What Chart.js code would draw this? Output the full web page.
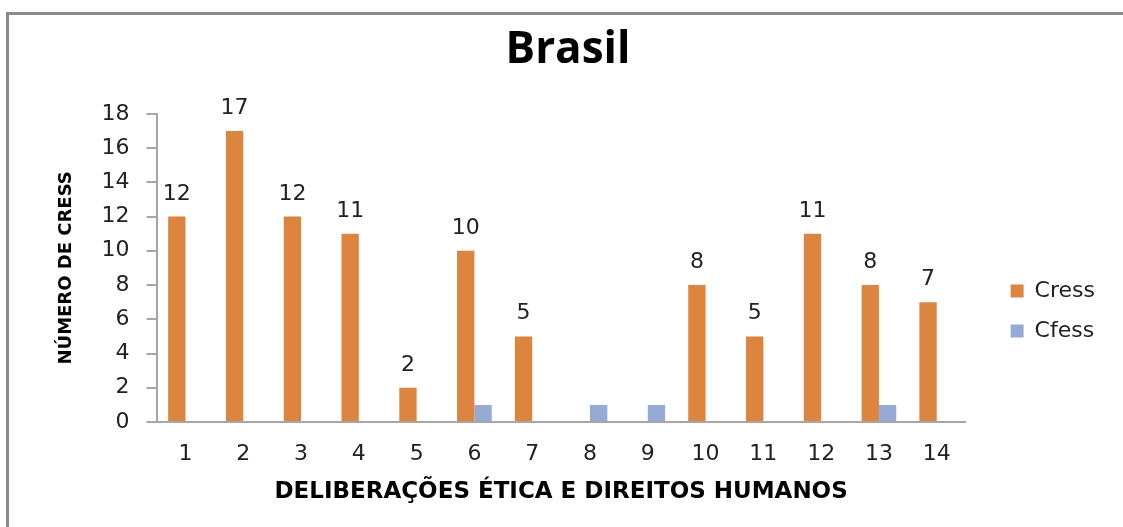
<!DOCTYPE html>
<html>
<head>
<meta charset="utf-8">
<script src="https://cdn.jsdelivr.net/npm/chart.js@4.4.1/dist/chart.umd.min.js"></script>
<style>
  html, body { margin: 0; padding: 0; background: #fff; }
  #wrap { position: relative; width: 1123px; height: 527px; }
  #frame { position: absolute; left: 6px; top: 12px; right: 0; bottom: 0;
           border-top: 3px solid #8a8a8a; border-left: 3px solid #8a8a8a; pointer-events: none; }
  canvas { position: absolute; left: 0; top: 0; }
</style>
</head>
<body>
<div id="wrap">
  <canvas id="c" width="1123" height="527"></canvas>
  <div id="frame"></div>
</div>
<script>
const categories = ['1','2','3','4','5','6','7','8','9','10','11','12','13','14'];
const cressValues = [12, 17, 12, 11, 2, 10, 5, 0, 0, 8, 5, 11, 8, 7];
const cfessValues = [0, 0, 0, 0, 0, 1, 0, 1, 1, 0, 0, 0, 1, 0];
const yTicks = [0, 2, 4, 6, 8, 10, 12, 14, 16, 18];

const tickFont = { family: 'DejaVu Sans', size: 22 };

const labelPlugin = {
  id: 'barLabels',
  afterDatasetsDraw(chart) {
    const ctx = chart.ctx;
    const meta = chart.getDatasetMeta(0);
    ctx.save();
    ctx.font = '22px "DejaVu Sans"';
    ctx.fillStyle = '#222';
    ctx.textAlign = 'center';
    ctx.textBaseline = 'alphabetic';
    meta.data.forEach((bar, i) => {
      const v = cressValues[i];
      if (!v) return;
      ctx.fillText(String(v), bar.x, bar.y - 17);
    });
    ctx.restore();
  }
};

new Chart(document.getElementById('c'), {
  type: 'bar',
  data: {
    labels: categories,
    datasets: [
      { label: 'Cress', data: cressValues, backgroundColor: '#DD843E', categoryPercentage: 0.6, barPercentage: 1.0 },
      { label: 'Cfess', data: cfessValues, backgroundColor: '#95ABD5', categoryPercentage: 0.6, barPercentage: 1.0 }
    ]
  },
  options: {
    responsive: false,
    animation: false,
    layout: { padding: { left: 31, right: 18, top: 10, bottom: 21 } },
    plugins: {
      title: {
        display: true, text: 'Brasil', color: '#000',
        font: { family: 'Open Sans', size: 44, weight: 'bold' },
        padding: { top: 14, bottom: 37 }
      },
      legend: {
        position: 'right',
        title: { display: true, text: ' ', font: { size: 10 }, padding: { top: 94, bottom: 0 } },
        labels: {
          font: tickFont, color: '#222', boxWidth: 13, boxHeight: 13, padding: 18
        }
      },
      tooltip: { enabled: false }
    },
    scales: {
      x: {
        grid: { display: false, drawTicks: true, tickLength: 8 },
        border: { color: '#A6A6A6', width: 2 },
        ticks: { font: tickFont, color: '#222', padding: 11 },
        title: {
          display: true, text: 'DELIBERAÇÕES ÉTICA E DIREITOS HUMANOS', color: '#000',
          font: { family: 'DejaVu Sans', size: 23, weight: 'bold' }, padding: { top: 0, bottom: 0 }
        }
      },
      y: {
        min: 0, max: 18,
        afterBuildTicks(axis) { axis.ticks = yTicks.map(v => ({ value: v })); },
        grid: { drawOnChartArea: false, drawTicks: true, tickLength: 10, color: '#A6A6A6', lineWidth: 2 },
        border: { color: '#A6A6A6', width: 2 },
        ticks: { font: tickFont, color: '#222', padding: 17 },
        title: {
          display: true, text: 'NÚMERO DE CRESS', color: '#000',
          font: { family: 'DejaVu Sans', size: 18, weight: 'bold' }, padding: { top: 25, bottom: 7 }
        }
      },
      gap: {
        type: 'linear', position: 'right', display: true,
        grid: { display: false, drawTicks: false },
        border: { display: false },
        ticks: { display: false },
        afterFit(axis) { axis.width = 27; }
      }
    }
  },
  plugins: [labelPlugin]
});
</script>
</body>
</html>
